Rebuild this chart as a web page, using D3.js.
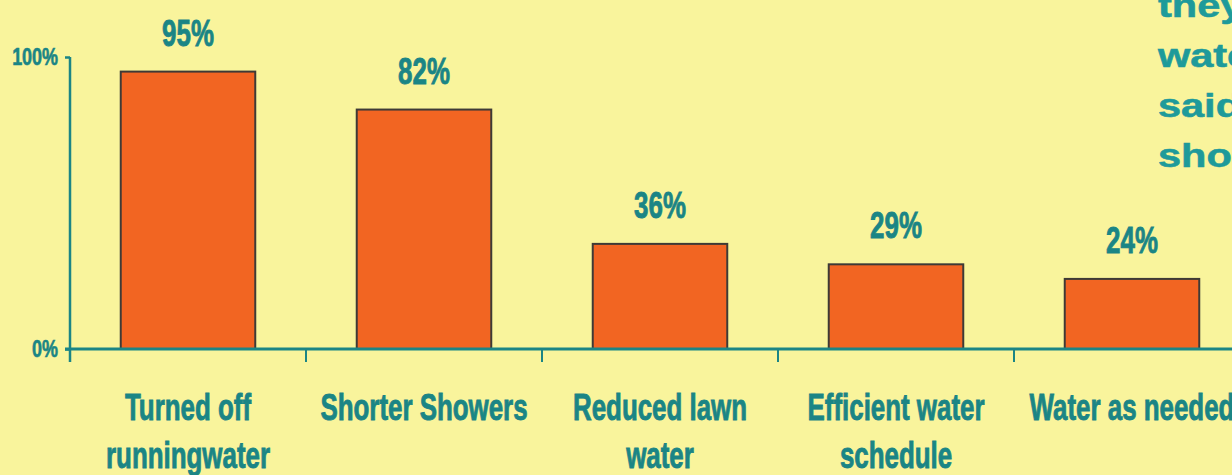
<!DOCTYPE html>
<html>
<head>
<meta charset="utf-8">
<script src="https://cdn.jsdelivr.net/npm/d3@7"></script>
<style>
  html, body { margin: 0; padding: 0; background: #F9F49C; overflow: hidden; }
  svg { display: block; }
  text { font-family: "Liberation Sans", Arial, sans-serif; font-weight: bold; }
</style>
</head>
<body>
<svg id="chart" width="1232" height="475"></svg>
<script>
// Survey results: share of respondents taking each water-saving action
const categories = [
  ["Turned off", "runningwater"],
  ["Shorter Showers"],
  ["Reduced lawn", "water"],
  ["Efficient water", "schedule"],
  ["Water as needed"]
];
const values = [0.95, 0.82, 0.36, 0.29, 0.24];
const valueLabels = ["95%", "82%", "36%", "29%", "24%"];
const yTicks = [0, 1];
const yTickLabels = ["0%", "100%"];
const sideNote = ["they", "water", "said", "shorter"];

const W = 1232, H = 475;
const plotLeft = 70, plotRight = 1250, plotTop = 57, plotBase = 349;
const narrow = 0.7;           // horizontal squeeze for the condensed lettering
const teal = "#1B8585", tealBright = "#1E9A9A";

const svg = d3.select("#chart");
svg.append("rect").attr("width", W).attr("height", H).attr("fill", "#F9F49C");

const keys = categories.map((c, i) => i);

// full-width slots for the category dividers
const slot = d3.scaleBand().domain(keys).range([plotLeft, plotRight]).padding(0);
// bars inside the slots
const x = d3.scaleBand().domain(keys).range([plotLeft, plotRight])
  .paddingInner(0.43).paddingOuter(0.215);
const y = d3.scaleLinear().domain([0, 1]).range([plotBase, plotTop]);

// bars
svg.append("g").selectAll("rect").data(values).join("rect")
  .attr("x", (d, i) => x(i))
  .attr("y", d => y(d))
  .attr("width", x.bandwidth())
  .attr("height", d => y(0) - y(d))
  .attr("fill", "#F26522")
  .attr("stroke", "#3E3A36")
  .attr("stroke-width", 2);

// value labels above bars
svg.append("g").selectAll("text").data(values).join("text")
  .attr("transform", (d, i) => `translate(${x(i) + x.bandwidth() / 2},${y(d) - 26}) scale(${narrow},1)`)
  .attr("text-anchor", "middle")
  .attr("font-size", 37)
  .attr("fill", teal)
  .attr("stroke", teal)
  .attr("stroke-width", 0.9)
  .text((d, i) => valueLabels[i]);

// y axis
const yAxis = d3.axisLeft(y).tickValues(yTicks).tickSize(5)
  .tickFormat((d, i) => yTickLabels[i]);
const gy = svg.append("g").attr("transform", `translate(${plotLeft},0)`).call(yAxis);
gy.select(".domain").remove();
gy.selectAll(".tick line").attr("stroke", teal).attr("stroke-width", 2.5);
gy.selectAll(".tick text")
  .attr("font-size", 23)
  .attr("fill", teal)
  .attr("stroke", teal)
  .attr("stroke-width", 0.6)
  .attr("font-family", "Liberation Sans, Arial, sans-serif")
  .attr("font-weight", "bold")
  .attr("text-anchor", "end")
  .attr("x", null)
  .attr("transform", `translate(-12,0) scale(0.78,1)`);
gy.append("line")
  .attr("x1", 0).attr("x2", 0)
  .attr("y1", y(1)).attr("y2", y(0) + 13)
  .attr("stroke", teal).attr("stroke-width", 2.5);

// x axis baseline and slot dividers
const gx = svg.append("g");
gx.append("line")
  .attr("x1", plotLeft - 5).attr("x2", plotRight)
  .attr("y1", y(0)).attr("y2", y(0))
  .attr("stroke", teal).attr("stroke-width", 3);
gx.selectAll("line.div").data(keys.slice(1)).join("line")
  .attr("class", "div")
  .attr("x1", d => slot(d)).attr("x2", d => slot(d))
  .attr("y1", y(0)).attr("y2", y(0) + 13)
  .attr("stroke", teal).attr("stroke-width", 2);

// category labels
const cat = svg.append("g").selectAll("text").data(categories).join("text")
  .attr("transform", (d, i) => `translate(${slot(i) + slot.bandwidth() / 2},420) scale(${narrow},1)`)
  .attr("text-anchor", "middle")
  .attr("font-size", 37)
  .attr("fill", teal)
  .attr("stroke", teal)
  .attr("stroke-width", 0.9);
cat.selectAll("tspan").data(d => d).join("tspan")
  .attr("x", 0)
  .attr("dy", (d, j) => j === 0 ? 0 : 48)
  .text(d => d);

// side note running off the right edge
svg.append("g").selectAll("text").data(sideNote).join("text")
  .attr("transform", (d, i) => `translate(1158,${17 + i * 50}) scale(1.22,1)`)
  .attr("font-size", 34)
  .attr("fill", tealBright)
  .attr("stroke", tealBright)
  .attr("stroke-width", 0.6)
  .text(d => d);
</script>
</body>
</html>
